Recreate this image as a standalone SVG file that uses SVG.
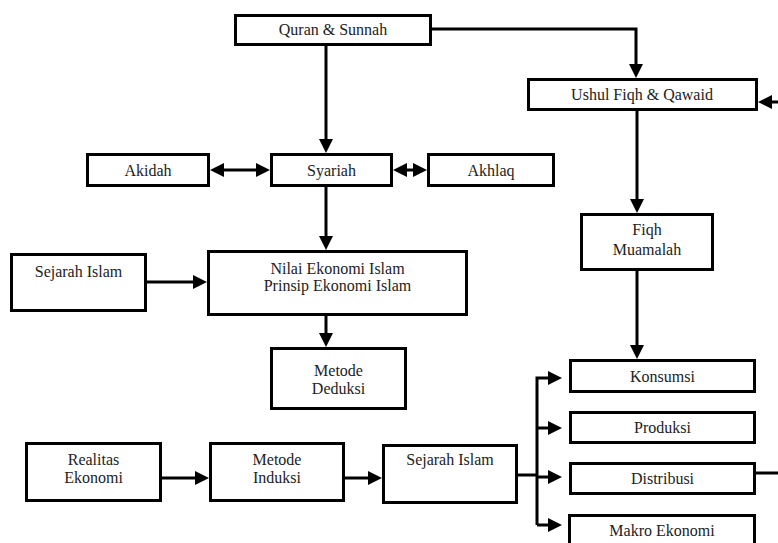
<svg xmlns="http://www.w3.org/2000/svg" width="778" height="543" viewBox="0 0 778 543">
<style>
.box{fill:#fff;stroke:#000;stroke-width:3}
.t{font-family:"Liberation Serif","Times New Roman",serif;font-size:16px;fill:#222;text-anchor:middle}
.c{fill:none;stroke:#000;stroke-width:3}
.a{marker-end:url(#ah)}
.d{marker-end:url(#ah);marker-start:url(#ah)}
</style>
<defs>
<marker id="ah" markerUnits="userSpaceOnUse" markerWidth="14" markerHeight="14" refX="10" refY="7" orient="auto-start-reverse">
<path d="M0,0 L14,7 L0,14 z" fill="#000"/>
</marker>
</defs>
<rect width="778" height="543" fill="#fff"/>
<g id="connectors">
<path class="c a" d="M326,45 V149"/>
<path class="c a" d="M432,29 H636 V74"/>
<path class="c a" d="M778,102 H762"/>
<path class="c d" d="M214,170 H266"/>
<path class="c d" d="M397,170 H423"/>
<path class="c a" d="M326,187 V246"/>
<path class="c a" d="M147,282 H203"/>
<path class="c a" d="M326,316 V343"/>
<path class="c a" d="M637,111 V209"/>
<path class="c a" d="M637,271 V355"/>
<path class="c a" d="M162,478 H205"/>
<path class="c a" d="M345,478 H378"/>
<path class="c" d="M518,475 H537"/>
<path class="c a" d="M537,525 V378 H558"/>
<path class="c a" d="M537,428 H558"/>
<path class="c a" d="M537,477 H558"/>
<path class="c a" d="M537,525 H558"/>
<path class="c" d="M756,473 H778"/>
</g>
<g id="quran"><rect class="box" x="235.5" y="15.5" width="195" height="29"/><text class="t" x="333" y="35">Quran &amp; Sunnah</text></g>
<g id="ushul"><rect class="box" x="528.5" y="79.5" width="228" height="30"/><text class="t" x="642" y="100">Ushul Fiqh &amp; Qawaid</text></g>
<g id="akidah"><rect class="box" x="87.5" y="154.5" width="121" height="31"/><text class="t" x="148" y="176">Akidah</text></g>
<g id="syariah"><rect class="box" x="271.5" y="154.5" width="120" height="31"/><text class="t" x="331.5" y="176">Syariah</text></g>
<g id="akhlaq"><rect class="box" x="428.5" y="154.5" width="125" height="31"/><text class="t" x="491" y="176">Akhlaq</text></g>
<g id="sejarah1"><rect class="box" x="11.5" y="254.5" width="134" height="56"/><text class="t" x="78.5" y="277">Sejarah Islam</text></g>
<g id="nilai"><rect class="box" x="208.5" y="251.5" width="258" height="63"/><text class="t" x="337.5" y="274">Nilai Ekonomi Islam</text><text class="t" x="337.5" y="291">Prinsip Ekonomi Islam</text></g>
<g id="deduksi"><rect class="box" x="271.5" y="348.5" width="134" height="60"/><text class="t" x="338.5" y="376">Metode</text><text class="t" x="338.5" y="394">Deduksi</text></g>
<g id="fiqh"><rect class="box" x="581.5" y="214.5" width="131" height="55"/><text class="t" x="647" y="235">Fiqh</text><text class="t" x="647" y="255">Muamalah</text></g>
<g id="konsumsi"><rect class="box" x="570.5" y="360.5" width="184" height="31"/><text class="t" x="662.5" y="382">Konsumsi</text></g>
<g id="produksi"><rect class="box" x="570.5" y="412.5" width="184" height="30"/><text class="t" x="662.5" y="433">Produksi</text></g>
<g id="distribusi"><rect class="box" x="570.5" y="463.5" width="184" height="30"/><text class="t" x="662.5" y="484">Distribusi</text></g>
<g id="makro"><rect class="box" x="569.5" y="515.5" width="185" height="40"/><text class="t" x="662" y="536">Makro Ekonomi</text></g>
<g id="realitas"><rect class="box" x="26.5" y="443.5" width="134" height="57"/><text class="t" x="93.5" y="465">Realitas</text><text class="t" x="93.5" y="483">Ekonomi</text></g>
<g id="induksi"><rect class="box" x="210.5" y="443.5" width="133" height="57"/><text class="t" x="277" y="465">Metode</text><text class="t" x="277" y="483">Induksi</text></g>
<g id="sejarah2"><rect class="box" x="383.5" y="445.5" width="133" height="57"/><text class="t" x="450" y="465">Sejarah Islam</text></g>
</svg>
